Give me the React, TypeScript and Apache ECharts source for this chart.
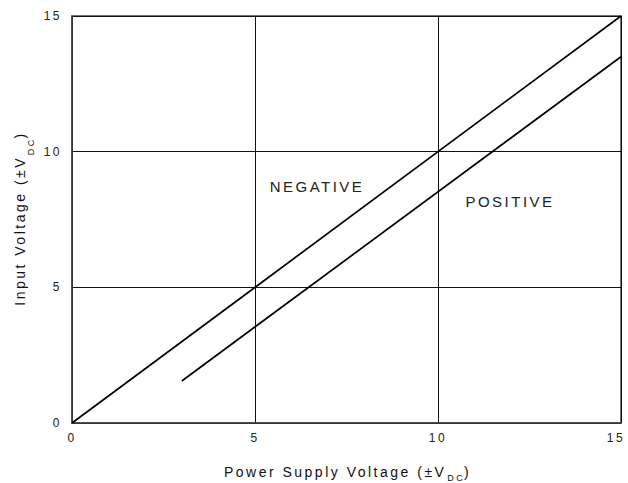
import React, { useEffect, useRef } from "react";
import * as echarts from "echarts";

const negativeX = [0, 15];
const negativeY = [0, 15];
const positiveX = [3, 15];
const positiveY = [1.55, 13.5];
const xTicks = [0, 5, 10, 15];
const yTicks = [0, 5, 10, 15];
const regionLabels = ["NEGATIVE", "POSITIVE"];

const FONT = "'Liberation Sans', Arial, sans-serif";

export default function App() {
  const ref = useRef<HTMLDivElement>(null);
  useEffect(() => {
    if (!ref.current) return;
    const chart = echarts.init(ref.current, undefined, { renderer: "svg" });
    const zip = (xs: number[], ys: number[]) => xs.map((x, i) => [x, ys[i]]);
    const titleRich = (first: number, lh: number) => ({
      a: { fontSize: 14, color: "#111", width: first, lineHeight: lh, fontFamily: FONT },
      s: { fontSize: 9, color: "#111", width: 18, lineHeight: 8, verticalAlign: "bottom", fontFamily: FONT },
      c: { fontSize: 14, color: "#111", lineHeight: lh, fontFamily: FONT },
    });
    const xMax = xTicks[xTicks.length - 1];
    chart.setOption({
      animation: false,
      textStyle: { fontFamily: FONT },
      grid: {
        left: 72,
        right: 7,
        top: 16,
        bottom: 60,
        containLabel: false,
        outerBoundsMode: "none",
        show: true,
        borderColor: "#444",
        borderWidth: 1.5,
      },
      xAxis: {
        type: "value",
        min: xTicks[0],
        max: xMax,
        interval: xTicks[1] - xTicks[0],
        axisTick: { show: false },
        axisLine: { lineStyle: { color: "#444", width: 1.5 } },
        splitLine: { lineStyle: { color: "#111", width: 1 } },
        axisLabel: {
          color: "#222",
          fontSize: 12,
          margin: 9,
          fontFamily: FONT,
          formatter: (v: number) => (v === xMax ? "{r|" + v + "}" : String(v)),
          rich: { r: { color: "#222", fontSize: 12, fontFamily: FONT, padding: [0, 10, 0, 0] } },
        },
        name: "{a|Power Supply Voltage (±V}{s|DC}{c|)}",
        nameLocation: "middle",
        nameGap: 38,
        nameTextStyle: { rich: titleRich(224, 21) },
      },
      yAxis: {
        type: "value",
        min: yTicks[0],
        max: yTicks[yTicks.length - 1],
        interval: yTicks[1] - yTicks[0],
        axisTick: { show: false },
        axisLine: { lineStyle: { color: "#444", width: 1.5 } },
        splitLine: { lineStyle: { color: "#111", width: 1 } },
        axisLabel: { color: "#222", fontSize: 12, margin: 10, fontFamily: FONT },
        name: "{a|Input Voltage (±V}{s|DC}{c|)}",
        nameLocation: "middle",
        nameGap: 37,
        nameTextStyle: { rich: titleRich(151, 30) },
      },
      series: [
        {
          type: "line",
          data: zip(negativeX, negativeY),
          symbol: "none",
          lineStyle: { color: "#000", width: 1.7 },
        },
        {
          type: "line",
          data: zip(positiveX, positiveY),
          symbol: "none",
          lineStyle: { color: "#000", width: 1.7 },
        },
      ],
      graphic: [
        {
          type: "text",
          x: 317,
          y: 186,
          style: {
            text: regionLabels[0],
            fontSize: 15,
            fontFamily: FONT,
            fill: "#222",
            align: "center",
            verticalAlign: "middle",
          },
        },
        {
          type: "text",
          x: 510,
          y: 201,
          style: {
            text: regionLabels[1],
            fontSize: 15,
            fontFamily: FONT,
            fill: "#222",
            align: "center",
            verticalAlign: "middle",
          },
        },
      ],
    });
    return () => chart.dispose();
  }, []);
  return (
    <div
      ref={ref}
      style={{
        position: "fixed",
        left: 0,
        top: 0,
        width: 628,
        height: 483,
        background: "#fff",
        letterSpacing: "2.5px",
      }}
    />
  );
}
